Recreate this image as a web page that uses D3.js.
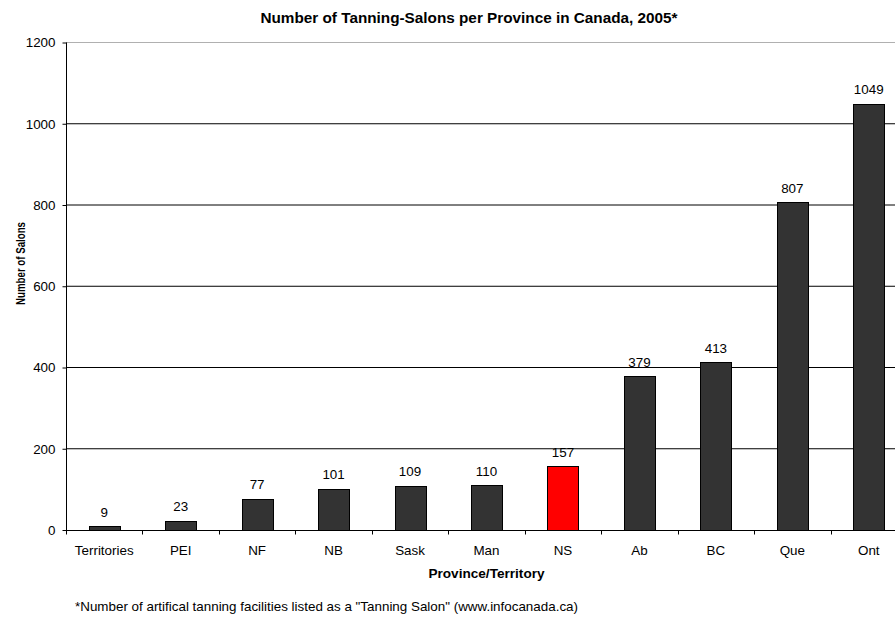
<!DOCTYPE html>
<html>
<head>
<meta charset="utf-8">
<script src="https://cdn.jsdelivr.net/npm/d3@7"></script>
<style>
  html, body { margin: 0; padding: 0; background: #fff; }
  svg { display: block; font-family: "Liberation Sans", Arial, sans-serif; }
</style>
</head>
<body>
<svg id="chart" width="895" height="618"></svg>
<script>
// Tanning salons per province/territory, 2005
const provinces = ["Territories", "PEI", "NF", "NB", "Sask", "Man", "NS", "Ab", "BC", "Que", "Ont"];
const salons = [9, 23, 77, 101, 109, 110, 157, 379, 413, 807, 1049];
const highlighted = ["NS"];
const yTicks = [0, 200, 400, 600, 800, 1000, 1200];

const data = provinces.map((p, i) => ({ name: p, value: salons[i] }));

const svg = d3.select("#chart");
const margin = { left: 66, top: 42.5, bottom: 530 };
const plotWidth = 841; // plot runs slightly past the right edge of the canvas
const fontSize = 13.4;

const x = d3.scaleBand()
  .domain(provinces)
  .range([margin.left, margin.left + plotWidth])
  .paddingInner(0.594)
  .paddingOuter(0.297);

const y = d3.scaleLinear()
  .domain([0, 1200])
  .range([margin.bottom, margin.top]);

// horizontal gridlines
svg.append("g")
  .selectAll("line")
  .data(yTicks.filter(d => d > 0))
  .join("line")
  .attr("x1", margin.left)
  .attr("x2", margin.left + plotWidth)
  .attr("y1", d => y(d))
  .attr("y2", d => y(d))
  .attr("stroke", d => d === 1200 ? "#b0b0b0" : "#000")
  .attr("stroke-width", 1);

// bars
svg.append("g")
  .selectAll("rect")
  .data(data)
  .join("rect")
  .attr("x", d => Math.round(x(d.name)) + 0.5)
  .attr("y", d => Math.round(y(d.value)) + 0.5)
  .attr("width", Math.round(x.bandwidth()))
  .attr("height", d => Math.round(y(0)) - Math.round(y(d.value)))
  .attr("fill", d => highlighted.includes(d.name) ? "#ff0000" : "#333333")
  .attr("stroke", "#000")
  .attr("stroke-width", 1);

// value labels
svg.append("g")
  .selectAll("text")
  .data(data)
  .join("text")
  .attr("x", d => x(d.name) + x.bandwidth() / 2)
  .attr("y", d => y(d.value) - 9.5)
  .attr("text-anchor", "middle")
  .attr("font-size", fontSize)
  .attr("fill", "#000")
  .text(d => d.value);

// y axis
const yAxis = d3.axisLeft(y).tickValues(yTicks).tickFormat(d3.format("d")).tickSize(4).tickPadding(7);
const gy = svg.append("g")
  .attr("transform", `translate(${margin.left + 0.5},0)`)
  .call(yAxis);
gy.select(".domain").attr("stroke", "#000").attr("d", `M0,${margin.bottom}V${margin.top}`);
gy.selectAll(".tick line").attr("stroke", "#000");
gy.selectAll(".tick text")
  .attr("font-size", fontSize)
  .attr("font-family", "Liberation Sans, Arial, sans-serif")
  .attr("fill", "#000");

// x axis with ticks between categories
const gx = svg.append("g")
  .attr("transform", `translate(0,${Math.round(y(0)) + 0.5})`);
gx.append("line")
  .attr("x1", margin.left)
  .attr("x2", margin.left + plotWidth)
  .attr("stroke", "#000");
const step = x.step();
gx.selectAll("line.tick")
  .data(d3.range(provinces.length + 1))
  .join("line")
  .attr("class", "tick")
  .attr("x1", i => Math.round(margin.left + i * step) + 0.5)
  .attr("x2", i => Math.round(margin.left + i * step) + 0.5)
  .attr("y1", 0)
  .attr("y2", 4)
  .attr("stroke", "#000");
gx.selectAll("text")
  .data(provinces)
  .join("text")
  .attr("x", d => x(d) + x.bandwidth() / 2)
  .attr("y", 24.5)
  .attr("text-anchor", "middle")
  .attr("font-size", fontSize)
  .attr("fill", "#000")
  .text(d => d);

// titles
svg.append("text")
  .attr("x", 469)
  .attr("y", 22.5)
  .attr("text-anchor", "middle")
  .attr("font-size", 15.3)
  .attr("font-weight", "bold")
  .text("Number of Tanning-Salons per Province in Canada, 2005*");

svg.append("text")
  .attr("x", 486.5)
  .attr("y", 578)
  .attr("text-anchor", "middle")
  .attr("font-size", 13.6)
  .attr("font-weight", "bold")
  .text("Province/Territory");

// rotated axis title, condensed along its baseline
svg.append("text")
  .attr("transform", "translate(24.5,263.5) rotate(-90) scale(0.713,1)")
  .attr("text-anchor", "middle")
  .attr("font-size", 13.6)
  .attr("font-weight", "bold")
  .text("Number of Salons");

svg.append("text")
  .attr("x", 75)
  .attr("y", 611)
  .attr("font-size", fontSize)
  .text("*Number of artifical tanning facilities listed as a \"Tanning Salon\" (www.infocanada.ca)");
</script>
</body>
</html>
